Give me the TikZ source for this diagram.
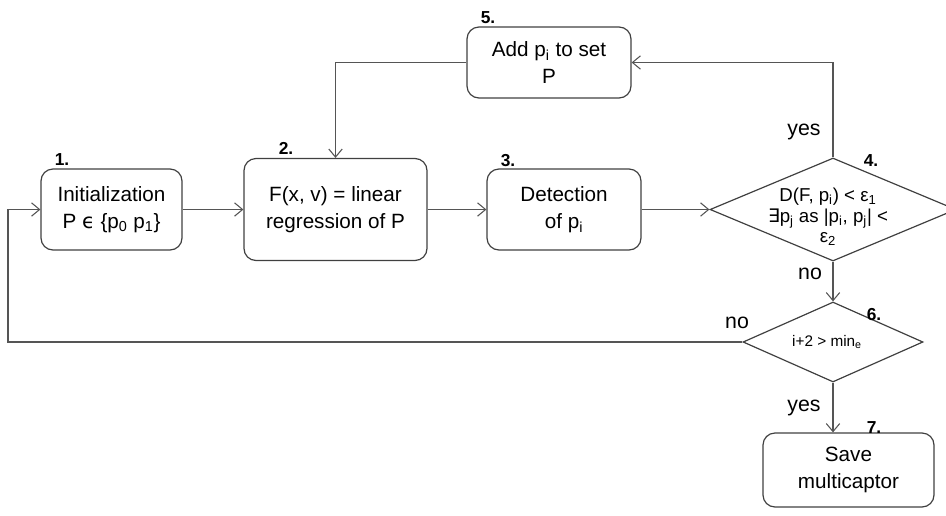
\documentclass[tikz,border=0pt]{standalone}
\usepackage{fontspec}
\setmainfont{Liberation Sans}
\newfontfamily\dejavu{DejaVu Sans}
\usetikzlibrary{arrows.meta,shapes.geometric}
\newcommand\sbs[1]{\textsubscript{#1}}
\definecolor{linegray}{HTML}{555555}
\definecolor{boxgray}{HTML}{404040}
\begin{document}
\begin{tikzpicture}[x=0.75pt,y=-0.75pt,
  line/.style={draw=linegray, line width=0.8pt},
  arr/.style={line, -{Straight Barb[length=6pt,width=10pt]}},
  box/.style={draw=boxgray, line width=0.9pt, rounded corners=9pt, align=center,
              font=\fontsize{15.5}{20}\selectfont, inner sep=0pt},
  dia/.style={draw=boxgray, line width=0.9pt, diamond, inner sep=0pt},
  dtext/.style={align=center, inner sep=0pt},
  num/.style={font=\fontsize{13}{15}\selectfont\bfseries, inner sep=0pt},
  lab/.style={font=\fontsize{16}{18}\selectfont, inner sep=0pt},
]
\clip (0,0) rectangle (946,515);

\node[box, minimum width=105.75pt, minimum height=60.75pt] (b1) at (111.5,209.5)
  {Initialization\\P {\dejavu ϵ} \{p\sbs{0} p\sbs{1}\}};
\node[box, minimum width=137.25pt, minimum height=76.5pt] (b2) at (335.5,209.5)
  {F(x, v) = linear\\regression of P};
\node[box, minimum width=115.5pt, minimum height=60.75pt] (b3) at (564,209.5)
  {Detection\\of p\sbs{i}};
\node[box, minimum width=123pt, minimum height=53.25pt] (b5) at (549,62.5)
  {Add p\sbs{i} to set\\P};
\node[dia, minimum width=184.5pt, minimum height=77.25pt] (d4) at (833,209.5) {};
\node[dtext, font=\fontsize{14}{15.5}\selectfont] (t4) at (828,217)
  {D(F, p\sbs{i}) < ε\sbs{1}\\{\dejavu ∃}p\sbs{j} as |p\sbs{i}, p\sbs{j}| <\\ε\sbs{2}};
\node[dia, minimum width=135pt, minimum height=60pt] (d6) at (833,342) {};
\node[dtext, font=\fontsize{11.5}{14}\selectfont] (t6) at (827,342) {i+2 > min\sbs{e}};
\node[box, minimum width=128.25pt, minimum height=55.5pt] (b7) at (848.5,470)
  {Save\\multicaptor};

\node[num] (n1) at (62,160) {1.};
\node[num] (n2) at (286,148) {2.};
\node[num] (n3) at (508,161) {3.};
\node[num] (n4) at (871,161) {4.};
\node[num] (n5) at (488,18) {5.};
\node[num] (n6) at (874,315) {6.};
\node[num] (n7) at (874,428) {7.};

\node[lab] (yes1) at (804,132) {yes};
\node[lab] (no1) at (810,274) {no};
\node[lab] (no2) at (737,323) {no};
\node[lab] (yes2) at (804,408) {yes};

\coordinate (lp) at (8,342);

\draw[arr] (b1.east) -- (b2.west);
\draw[arr] (b2.east) -- (b3.west);
\draw[arr] (b3.east) -- (d4.west);
\draw[arr] (d4.north) |- (b5.east);
\draw[arr] (b5.west) -| (b2.north);
\draw[arr] (d4.south) -- (d6.north);
\draw[arr] (d6.south) -- (d6.south |- b7.north);
\draw[arr] (d6.west) -- (lp) |- (b1.west);
\end{tikzpicture}
\end{document}
